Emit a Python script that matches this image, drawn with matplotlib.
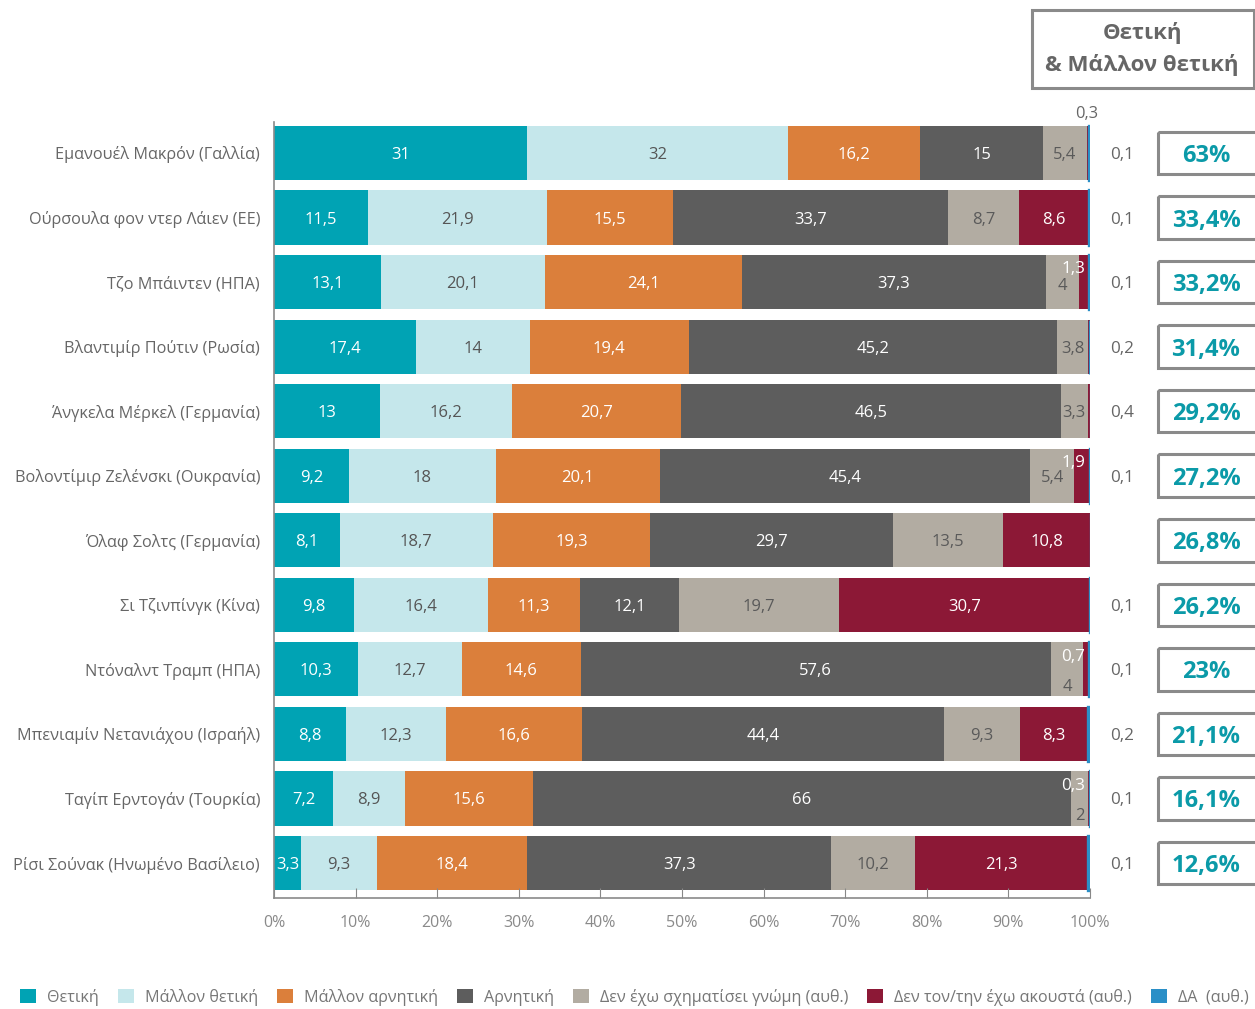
import matplotlib
matplotlib.use("Agg")
import matplotlib.pyplot as plt
from matplotlib.patches import Rectangle, Patch
from matplotlib.transforms import blended_transform_factory

plt.rcParams['font.family'] = ['Open Sans', 'DejaVu Sans']

categories = [
    "Εμανουέλ Μακρόν (Γαλλία)",
    "Ούρσουλα φον ντερ Λάιεν (ΕΕ)",
    "Τζο Μπάιντεν (ΗΠΑ)",
    "Βλαντιμίρ Πούτιν (Ρωσία)",
    "Άνγκελα Μέρκελ (Γερμανία)",
    "Βολοντίμιρ Ζελένσκι (Ουκρανία)",
    "Όλαφ Σολτς (Γερμανία)",
    "Σι Τζινπίνγκ (Κίνα)",
    "Ντόναλντ Τραμπ (ΗΠΑ)",
    "Μπενιαμίν Νετανιάχου (Ισραήλ)",
    "Ταγίπ Ερντογάν (Τουρκία)",
    "Ρίσι Σούνακ (Ηνωμένο Βασίλειο)",
]
series_names = ["Θετική", "Μάλλον θετική", "Μάλλον αρνητική", "Αρνητική",
                "Δεν έχω σχηματίσει γνώμη (αυθ.)", "Δεν τον/την έχω ακουστά (αυθ.)",
                "ΔΑ  (αυθ.)"]
thetiki = [31, 11.5, 13.1, 17.4, 13, 9.2, 8.1, 9.8, 10.3, 8.8, 7.2, 3.3]
mallon_thetiki = [32, 21.9, 20.1, 14, 16.2, 18, 18.7, 16.4, 12.7, 12.3, 8.9, 9.3]
mallon_arnitiki = [16.2, 15.5, 24.1, 19.4, 20.7, 20.1, 19.3, 11.3, 14.6, 16.6, 15.6, 18.4]
arnitiki = [15, 33.7, 37.3, 45.2, 46.5, 45.4, 29.7, 12.1, 57.6, 44.4, 66, 37.3]
den_gnomi = [5.4, 8.7, 4, 3.8, 3.3, 5.4, 13.5, 19.7, 4, 9.3, 2, 10.2]
den_akousta = [0.3, 8.6, 1.3, 0.2, 0.4, 1.9, 10.8, 30.7, 0.7, 8.3, 0.3, 21.3]
da = [0.1, 0.1, 0.1, 0.0, 0.0, 0.1, 0.0, 0.1, 0.1, 0.2, 0.1, 0.1]
side_labels = ["0,1", "0,1", "0,1", "0,2", "0,4", "0,1", "", "0,1", "0,1", "0,2", "0,1", "0,1"]
xticks = [0, 10, 20, 30, 40, 50, 60, 70, 80, 90, 100]

series = [thetiki, mallon_thetiki, mallon_arnitiki, arnitiki, den_gnomi, den_akousta, da]
colors = ["#00a3b4", "#c5e7eb", "#db7f3b", "#5d5d5d", "#b2aca2", "#8c1836", "#2a8fc7"]
txt_colors = ["white", "#555555", "white", "white", "#5a5a5a", "white", "white"]

W, H = 1255, 1009
fig = plt.figure(figsize=(W / 100, H / 100), dpi=100)
# axes spans pixel x 274..1090, y 122..898
ax = fig.add_axes([274 / W, 1 - 898 / H, (1090 - 274) / W, (898 - 122) / H])
n = len(categories)
ax.set_xlim(0, 100)
ax.set_ylim(11 + 35 / 64.55, -31 / 64.55)

ys = list(range(n))
left = [0.0] * n
for si, (vals, col) in enumerate(zip(series, colors)):
    lw = 2.4 if si == 6 else 0
    ax.barh(ys, vals, left=left, height=0.84, color=col, edgecolor=col, linewidth=lw)
    for i, v in enumerate(vals):
        x0 = left[i]
        xc = x0 + v / 2
        lab = f"{v:g}".replace('.', ',')
        if si == 6 or v == 0:
            pass
        elif si == 5 and v < 2.5:
            # small "not heard" values
            if i == 0:
                ax.text(99.6, -0.61, lab, ha='center', va='center', fontsize=11.8,
                        color='#666666', clip_on=False)
            elif i in (3, 4):
                pass
            else:
                ax.text(99.4, i - 0.23, lab, ha='right', va='center_baseline',
                        fontsize=12.3, color='white')
        else:
            dy = 0
            if si == 4 and i in (8, 10):
                dy = 0.24
            if si == 4 and i == 2:
                dy = 0.03
            ax.text(xc, i + dy, lab, ha='center', va='center_baseline',
                    fontsize=12, color=txt_colors[si])
        left[i] = x0 + v

ax.set_yticks(ys)
ax.set_yticklabels(categories, fontsize=11.7, color='#666666')
ax.tick_params(axis='y', length=0, pad=10)
ax.set_xticks(xticks)
ax.set_xticklabels([f"{t}%" for t in xticks], fontsize=11.5, color='#8a8a8a')
ax.tick_params(axis='x', direction='in', length=7, color='#888888', pad=12)
for s in ['top', 'right']:
    ax.spines[s].set_visible(False)
for s in ['left', 'bottom']:
    ax.spines[s].set_color('#8a8a8a')
    ax.spines[s].set_linewidth(1.2)

# right-side labels and boxes with positive totals
tr = blended_transform_factory(fig.transFigure, ax.transData)
for i in range(n):
    if side_labels[i]:
        ax.text(1122 / W, i, side_labels[i], transform=tr, ha='center',
                va='center_baseline', fontsize=12.3, color='#666666')
    tot = round(thetiki[i] + mallon_thetiki[i], 1)
    s = f"{tot:g}".replace('.', ',') + "%"
    rect = Rectangle((1158 / W, i - 0.33), 120 / W, 0.66, transform=tr, fill=False,
                     edgecolor='#8a8a8a', linewidth=2.2, clip_on=False)
    ax.add_patch(rect)
    ax.text(1206 / W, i, s, transform=tr, ha='center', va='center_baseline', fontsize=17,
            fontweight='bold', color='#0b9aa8')

# header box
fig.patches.append(Rectangle((1032 / W, 1 - 88 / H), 222 / W, 78 / H, transform=fig.transFigure,
                             fill=False, edgecolor='#8a8a8a', linewidth=2.2))
fig.text(1142 / W, 1 - 33 / H, "Θετική", ha='center', va='center', fontsize=16,
         fontweight='bold', color='#666666')
fig.text(1142 / W, 1 - 65 / H, "& Μάλλον θετική", ha='center', va='center', fontsize=16,
         fontweight='bold', color='#666666')

handles = [Patch(facecolor=c, edgecolor='none') for c in colors]
fig.legend(handles, series_names, loc='center left', bbox_to_anchor=(20 / W, 1 - 997 / H),
           ncol=7, frameon=False, fontsize=11.6, labelcolor='#777777', handlelength=1.0,
           handleheight=1.0, handletextpad=0.7, columnspacing=1.15, borderaxespad=0,
           borderpad=0)

fig.savefig("out.png", dpi=100)
